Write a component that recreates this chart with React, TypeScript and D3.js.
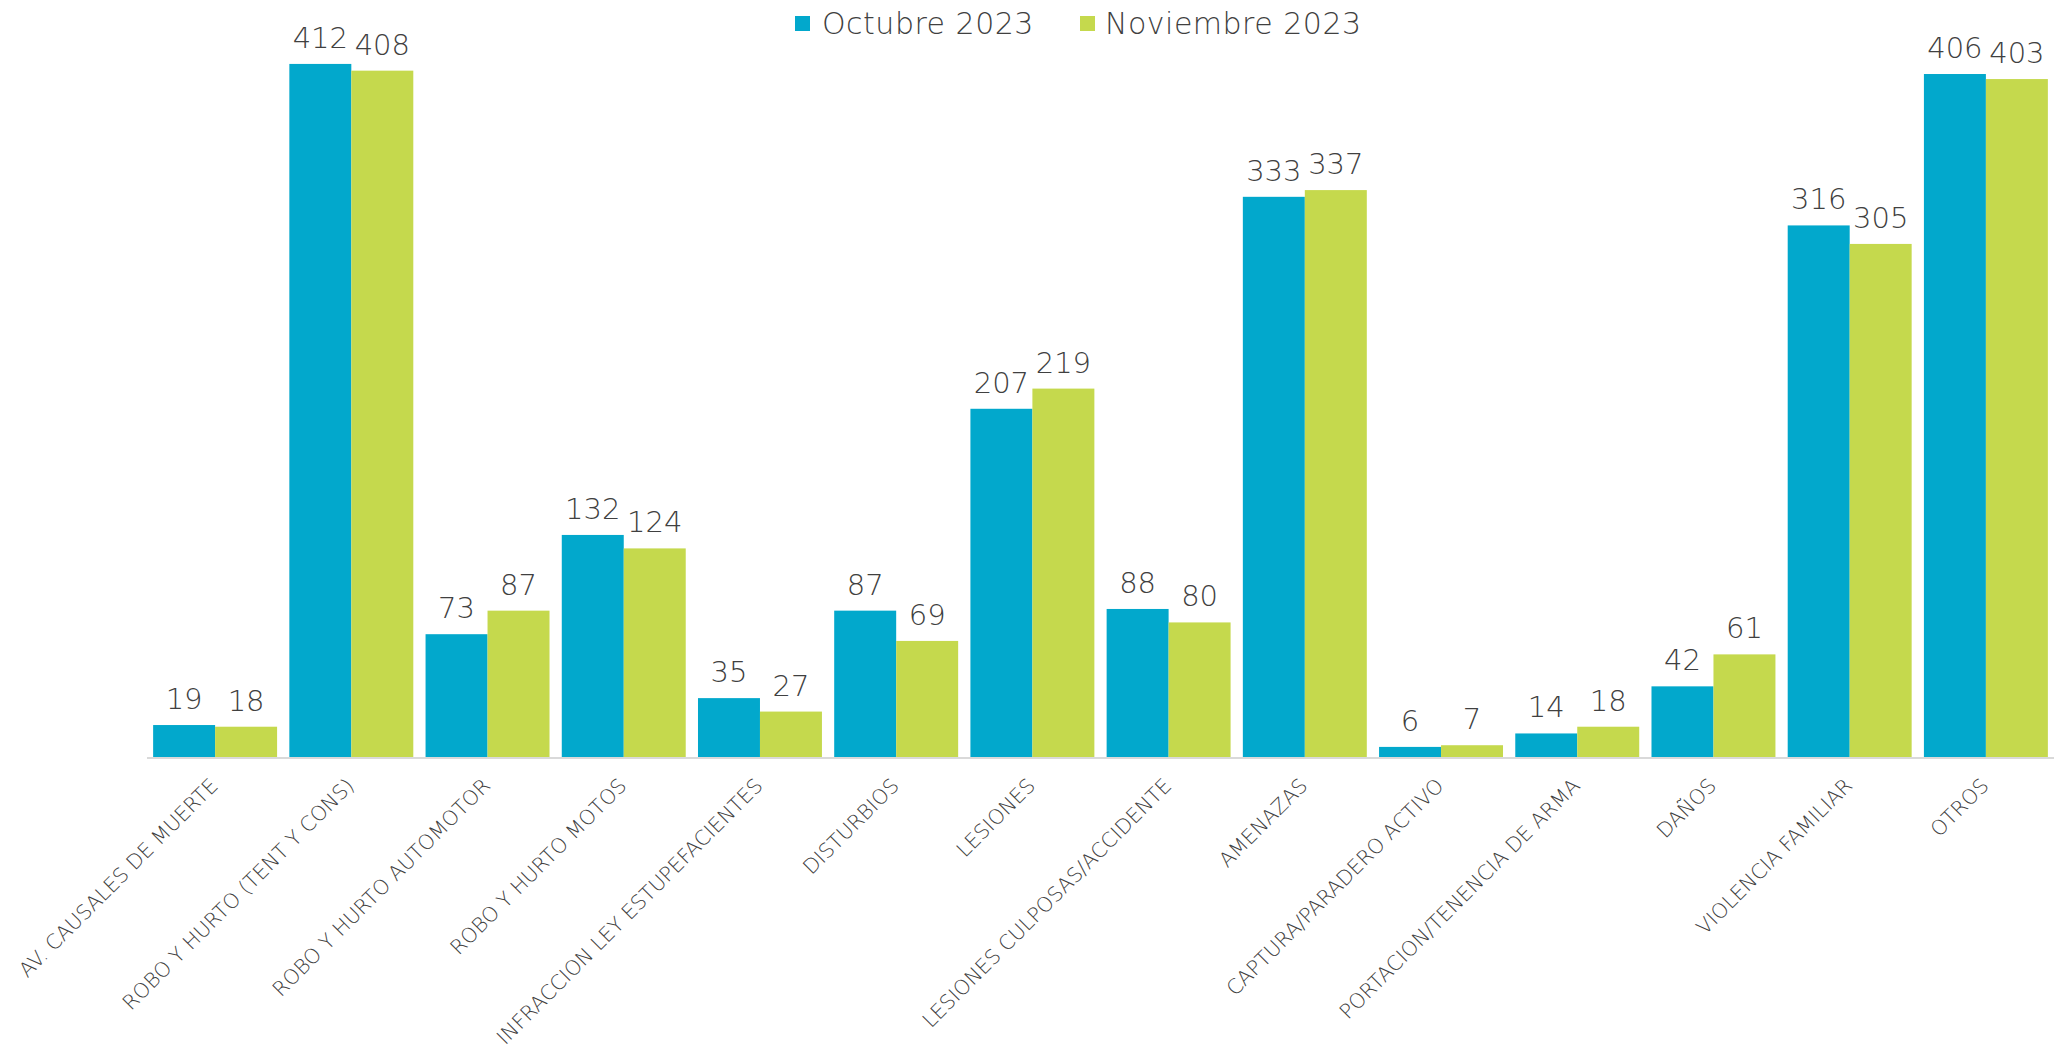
import React from "react";
import * as d3 from "d3";

const categories = [
  "AV. CAUSALES DE MUERTE",
  "ROBO Y HURTO (TENT Y CONS)",
  "ROBO Y HURTO AUTOMOTOR",
  "ROBO Y HURTO MOTOS",
  "INFRACCION LEY ESTUPEFACIENTES",
  "DISTURBIOS",
  "LESIONES",
  "LESIONES CULPOSAS/ACCIDENTE",
  "AMENAZAS",
  "CAPTURA/PARADERO ACTIVO",
  "PORTACION/TENENCIA DE ARMA",
  "DAÑOS",
  "VIOLENCIA FAMILIAR",
  "OTROS",
];
const seriesNames = ["Octubre 2023", "Noviembre 2023"];
const octubre = [19, 412, 73, 132, 35, 87, 207, 88, 333, 6, 14, 42, 316, 406];
const noviembre = [18, 408, 87, 124, 27, 69, 219, 80, 337, 7, 18, 61, 305, 403];
const colors = ["#02A8CC", "#C5D94D"];

const W = 2056;
const H = 1057;
const X0 = 147;
const X1 = 2054;
const BASE = 757;

export default function App() {
  const x = d3
    .scaleBand<string>()
    .domain(categories)
    .range([X0, X1])
    .paddingInner(0.09)
    .paddingOuter(0.045);
  const xs = d3
    .scaleBand<string>()
    .domain(seriesNames)
    .range([0, x.bandwidth()])
    .padding(0);
  const y = d3.scaleLinear().domain([0, 450]).range([BASE, 0]);
  const series = [octubre, noviembre];
  const font = "'DejaVu Sans', sans-serif";

  return (
    <svg
      width={W}
      height={H}
      style={{ position: "absolute", left: 0, top: 0, display: "block", background: "#fff" }}
    >
      {categories.map((c, i) => (
        <g key={c}>
          {series.map((vals, s) => {
            const bx = (x(c) as number) + (xs(seriesNames[s]) as number);
            const bw = xs.bandwidth();
            return (
              <g key={s}>
                <rect x={bx} y={y(vals[i])} width={bw} height={BASE - y(vals[i])} fill={colors[s]} />
                <text
                  x={bx + bw / 2}
                  y={y(vals[i]) - 16}
                  textAnchor="middle"
                  fontFamily={font}
                  fontSize={29}
                  fontWeight={200}
                  fill="#404040"
                >
                  {vals[i]}
                </text>
              </g>
            );
          })}
        </g>
      ))}
      <line x1={X0} x2={X1} y1={BASE + 1} y2={BASE + 1} stroke="#d9d9d9" strokeWidth={2} />
      {categories.map((c) => {
        const cx = (x(c) as number) + x.bandwidth() / 2 + 4;
        const cy = BASE + 30;
        return (
          <text
            key={c}
            transform={`translate(${cx},${cy}) rotate(-45)`}
            textAnchor="end"
            fontFamily={font}
            fontSize={20.5}
            fontWeight={200}
            fill="#404040"
          >
            {c}
          </text>
        );
      })}
      {[
        { sx: 795, tx: 822 },
        { sx: 1080, tx: 1105 },
      ].map((p, s) => (
        <g key={s}>
          <rect x={p.sx} y={16} width={15} height={15} fill={colors[s]} />
          <text
            x={p.tx}
            y={34}
            fontFamily={font}
            fontSize={30}
            fontWeight={200}
            letterSpacing={0.5}
            fill="#404040"
          >
            {seriesNames[s]}
          </text>
        </g>
      ))}
    </svg>
  );
}
